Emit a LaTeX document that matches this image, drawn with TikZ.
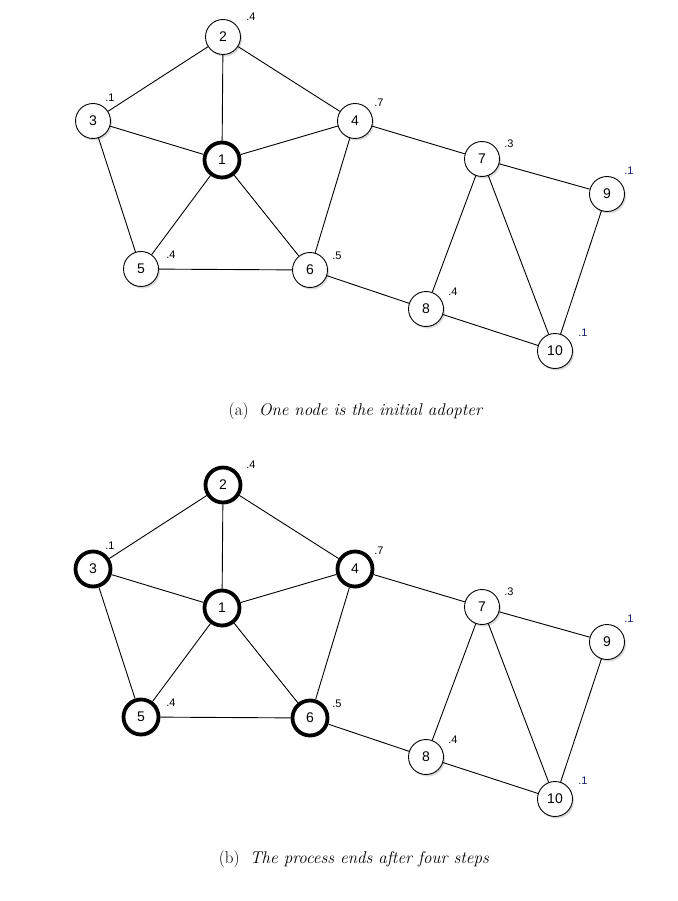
\documentclass[tikz,border=0pt]{standalone}
\usepackage{fontspec}
\newfontfamily\vtxfont{Liberation Sans}
\usetikzlibrary{shadows}
\definecolor{thrblue}{RGB}{20,30,110}

\begin{document}
\begin{tikzpicture}[x=1pt,y=-1pt]
  \tikzset{vtx/.style={circle,draw,fill=white,minimum size=35pt,inner sep=0pt,
      font=\vtxfont\fontsize{14}{14}\selectfont,
      drop shadow={opacity=0.3,shadow xshift=1.5pt,shadow yshift=-2pt}},
    thr/.style={inner sep=0pt,font=\vtxfont\fontsize{11}{11}\selectfont},
    edge/.style={line width=0.9pt},
    subcap/.style={font=\fontsize{17}{20}\selectfont}}
  \useasboundingbox (0,0) rectangle (677,901);
  \foreach \n/\x/\y/\wa/\wb in {1/222/160/3.8pt/3.8pt, 2/223/37/0.9pt/3.8pt,
      3/93/121/0.9pt/3.8pt, 4/355/121/0.9pt/3.8pt, 5/141/269/0.9pt/3.8pt,
      6/310/270/0.9pt/3.8pt, 7/482/159/0.9pt/0.9pt, 8/426/309/0.9pt/0.9pt,
      9/607/194/0.9pt/0.9pt, 10/555/351/0.9pt/0.9pt} {
    \node[vtx,line width=\wa] (a\n) at (\x,\y) {\n};
    \node[vtx,line width=\wb] (b\n) at (\x,\y+448) {\n};
  }
  \foreach \n/\x/\y/\t/\c in {2/251/17/.4/black, 3/110/98/.1/black, 4/379/103/.7/black,
      5/171/255/.4/black, 6/337/256/.5/black, 7/509/144/.3/black,
      8/453/292/.4/black, 9/629/171/.1/thrblue, 10/583/333/.1/thrblue} {
    \node[thr,text=\c] (ta\n) at (\x,\y) {\t};
    \node[thr,text=\c] (tb\n) at (\x,\y+448) {\t};
  }
  \foreach \u/\v in {1/2, 1/3, 1/4, 1/5, 1/6, 2/3, 2/4, 3/5, 4/6, 5/6,
      4/7, 6/8, 7/8, 7/9, 7/10, 8/10, 9/10} {
    \draw[edge] (a\u) -- (a\v);
    \draw[edge] (b\u) -- (b\v);
  }
  \node[subcap] (capa) at (356,411) {(a)\hspace{0.6em}\textit{One node is the initial adopter}};
  \node[subcap] (capb) at (354,859) {(b)\hspace{0.6em}\textit{The process ends after four steps}};
\end{tikzpicture}
\end{document}
